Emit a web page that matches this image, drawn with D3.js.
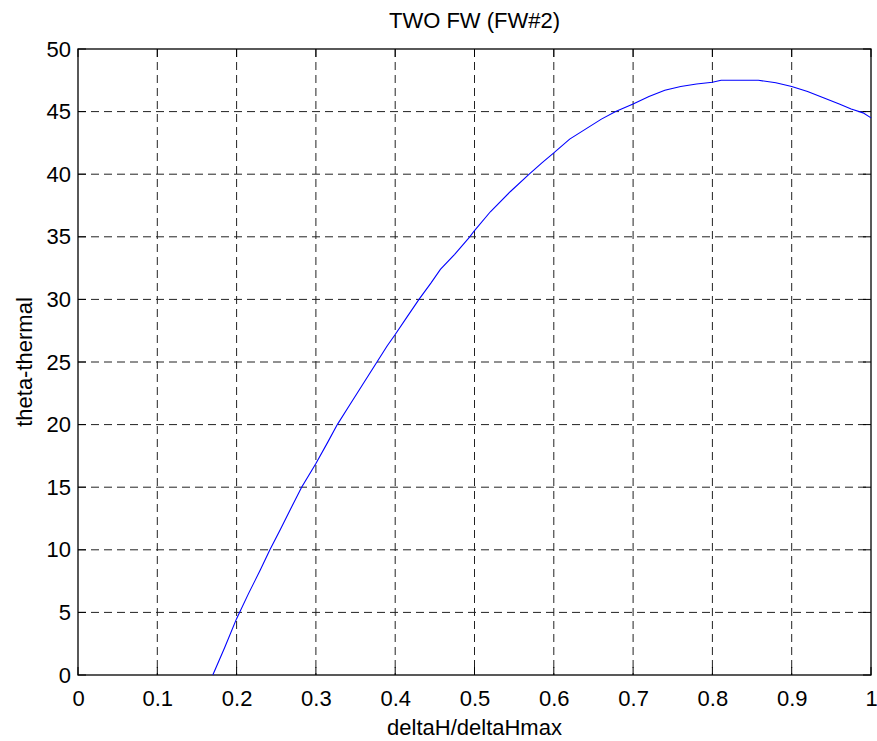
<!DOCTYPE html>
<html>
<head>
<meta charset="utf-8">
<script src="https://cdn.jsdelivr.net/npm/d3@7"></script>
<style>
  body { margin: 0; background: #fff; }
  text { font-family: "Liberation Sans", Arial, sans-serif; }
</style>
</head>
<body>
<script>
const width = 877;
const height = 741;
const margin = { top: 49, right: 6, bottom: 66, left: 78 };

// curve
const ratio = [0.170, 0.185, 0.200, 0.215, 0.230, 0.242, 0.255, 0.270, 0.282, 0.300,
  0.315, 0.327, 0.340, 0.355, 0.365, 0.377, 0.390, 0.400, 0.415, 0.430,
  0.445, 0.457, 0.475, 0.494, 0.500, 0.520, 0.545, 0.569, 0.585, 0.600,
  0.620, 0.640, 0.660, 0.678, 0.700, 0.720, 0.740, 0.760, 0.780, 0.800,
  0.811, 0.858, 0.880, 0.900, 0.920, 0.940, 0.960, 0.975, 0.990, 1.000];
const theta = [0, 2.2, 4.5, 6.5, 8.4, 10, 11.6, 13.5, 15, 16.9,
  18.6, 20, 21.3, 22.8, 23.8, 25, 26.3, 27.2, 28.6, 30,
  31.3, 32.4, 33.6, 35, 35.5, 37, 38.6, 40, 40.9, 41.7,
  42.8, 43.6, 44.4, 45, 45.6, 46.2, 46.7, 47.0, 47.2, 47.35,
  47.5, 47.5, 47.3, 47.0, 46.6, 46.1, 45.6, 45.2, 44.9, 44.5];

const xTicks = [0, 0.1, 0.2, 0.3, 0.4, 0.5, 0.6, 0.7, 0.8, 0.9, 1];
const yTicks = [0, 5, 10, 15, 20, 25, 30, 35, 40, 45, 50];

const innerW = width - margin.left - margin.right;
const innerH = height - margin.top - margin.bottom;

const svg = d3.select("body").append("svg")
  .attr("width", width)
  .attr("height", height);

const g = svg.append("g")
  .attr("transform", `translate(${margin.left},${margin.top})`);

const x = d3.scaleLinear().domain([0, 1]).range([0, innerW]);
const y = d3.scaleLinear().domain([0, 50]).range([innerH, 0]);

// grid
g.append("g").selectAll("line")
  .data(xTicks.slice(1, -1))
  .join("line")
  .attr("x1", d => x(d)).attr("x2", d => x(d))
  .attr("y1", 0).attr("y2", innerH)
  .attr("stroke", "#222").attr("stroke-dasharray", "8,5");

g.append("g").selectAll("line")
  .data(yTicks.slice(1, -1))
  .join("line")
  .attr("x1", 0).attr("x2", innerW)
  .attr("y1", d => y(d)).attr("y2", d => y(d))
  .attr("stroke", "#222").attr("stroke-dasharray", "8,5");

// inward ticks on all four sides
const tk = 8;
const ticks = g.append("g").attr("stroke", "#000");
xTicks.forEach(d => {
  ticks.append("line").attr("x1", x(d)).attr("x2", x(d)).attr("y1", innerH).attr("y2", innerH - tk);
  ticks.append("line").attr("x1", x(d)).attr("x2", x(d)).attr("y1", 0).attr("y2", tk);
});
yTicks.forEach(d => {
  ticks.append("line").attr("x1", 0).attr("x2", tk).attr("y1", y(d)).attr("y2", y(d));
  ticks.append("line").attr("x1", innerW).attr("x2", innerW - tk).attr("y1", y(d)).attr("y2", y(d));
});

// tick labels
const ejeX = g.append("g")
  .attr("transform", `translate(0,${innerH})`)
  .call(d3.axisBottom(x).tickValues(xTicks).tickFormat(d3.format("~g")).tickSize(0).tickPadding(15));
const ejeY = g.append("g")
  .call(d3.axisLeft(y).tickValues(yTicks).tickFormat(d3.format("~g")).tickSize(0).tickPadding(7));
[ejeX, ejeY].forEach(a => {
  a.select(".domain").remove();
  a.selectAll("text").attr("font-size", 22).attr("fill", "#000")
    .attr("font-family", "'Liberation Sans', Arial, sans-serif");
});

// box
g.append("rect")
  .attr("width", innerW).attr("height", innerH)
  .attr("fill", "none").attr("stroke", "#000").attr("stroke-width", 1.3);

// curve
const linea = d3.line()
  .x((d, i) => x(ratio[i]))
  .y(d => y(d));

g.append("path")
  .datum(theta)
  .attr("fill", "none")
  .attr("stroke", "#0000ff")
  .attr("stroke-width", 1.1)
  .attr("d", linea);

// titles
svg.append("text")
  .attr("x", margin.left + innerW / 2).attr("y", 28)
  .attr("text-anchor", "middle").attr("font-size", 22)
  .text("TWO FW (FW#2)");

svg.append("text")
  .attr("x", margin.left + innerW / 2).attr("y", 735)
  .attr("text-anchor", "middle").attr("font-size", 22)
  .text("deltaH/deltaHmax");

svg.append("text")
  .attr("transform", `translate(32,${margin.top + innerH / 2}) rotate(-90)`)
  .attr("text-anchor", "middle").attr("font-size", 22)
  .text("theta-thermal");
</script>
</body>
</html>
